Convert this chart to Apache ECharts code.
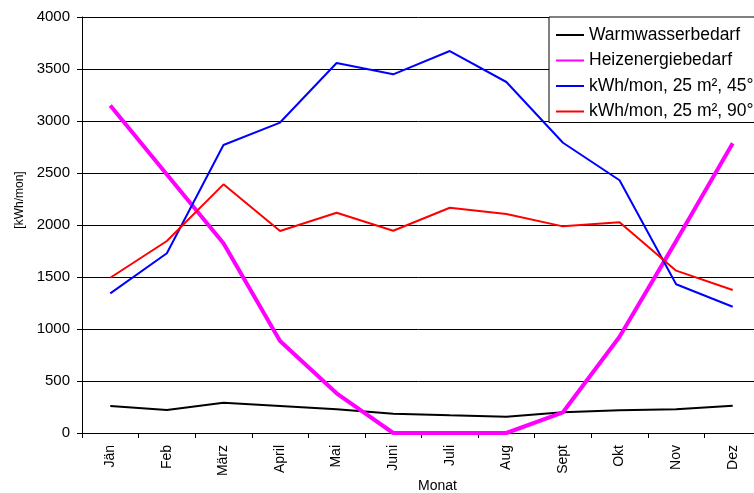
<!DOCTYPE html>
<html>
<head>
<meta charset="utf-8">
<script src="https://cdn.jsdelivr.net/npm/echarts@6/dist/echarts.min.js"></script>
<style>
html,body{margin:0;padding:0;background:#fff;}
#chart{width:754px;height:493px;}
</style>
</head>
<body>
<div id="chart"></div>
<script>
const months = ['Jän','Feb','März','April','Mai','Juni','Juli','Aug','Sept','Okt','Nov','Dez'];
const warmwasser = [260, 221, 291, 260, 228, 186, 170, 157, 199, 218, 228, 263];
const heizen = [3150, 2485, 1824, 885, 382, 0, 0, 0, 199, 926, 1845, 2785];
const kwh45 = [1343, 1728, 2769, 2985, 3558, 3449, 3673, 3375, 2791, 2430, 1430, 1214];
const kwh90 = [1493, 1846, 2391, 1942, 2118, 1945, 2166, 2106, 1987, 2026, 1561, 1375];
const yTicks = {min: 0, max: 4000, interval: 500};

const font = 'Liberation Sans, Arial, sans-serif';
const chart = echarts.init(document.getElementById('chart'));
function ser(name, data, color, width) {
  return {
    name, type: 'line', data, symbol: 'none',
    lineStyle: {color, width}, itemStyle: {color},
    animation: false
  };
}
chart.setOption({
  animation: false,
  backgroundColor: '#fff',
  textStyle: {fontFamily: font},
  grid: {left: 82, top: 17, width: 679, height: 416, outerBoundsMode: 'none', containLabel: false},
  legend: {
    orient: 'vertical', left: 549, top: 17,
    backgroundColor: '#fff', borderColor: '#000', borderWidth: 1, borderRadius: 0,
    padding: [9, 30, 2, 6], itemGap: 7.5, itemWidth: 28, itemHeight: 14,
    itemStyle: {opacity: 0},
    textStyle: {fontFamily: font, fontSize: 17.5, color: '#000'},
    data: ['Warmwasserbedarf', 'Heizenergiebedarf', 'kWh/mon, 25 m², 45°', 'kWh/mon, 25 m², 90°']
  },
  xAxis: {
    type: 'category', data: months, boundaryGap: true,
    name: 'Monat', nameLocation: 'middle', nameGap: 46, nameMoveOverlap: false,
    nameTextStyle: {fontFamily: font, fontSize: 14, color: '#000', padding: [0, 0, 0, 32]},
    axisLine: {lineStyle: {color: '#000', width: 1}},
    axisTick: {show: true, inside: false, length: 5, lineStyle: {color: '#000'}},
    axisLabel: {rotate: 90, margin: 12, fontSize: 14, color: '#000', fontFamily: font},
    splitLine: {show: false}
  },
  yAxis: {
    type: 'value', min: yTicks.min, max: yTicks.max, interval: yTicks.interval,
    name: '[kWh/mon]', nameLocation: 'middle', nameGap: 56, nameMoveOverlap: false,
    nameTextStyle: {fontFamily: font, fontSize: 12, color: '#000', padding: [0, 0, 0, 50]},
    axisLine: {show: true, lineStyle: {color: '#000', width: 1}},
    axisTick: {show: true, inside: false, length: 5, lineStyle: {color: '#000'}},
    axisLabel: {margin: 12, fontSize: 15, color: '#000', fontFamily: font, formatter: v => String(v)},
    splitLine: {show: true, lineStyle: {color: '#000', width: 1}}
  },
  series: [
    ser('Warmwasserbedarf', warmwasser, '#000000', 2),
    ser('Heizenergiebedarf', heizen, '#ff00ff', 4),
    ser('kWh/mon, 25 m², 45°', kwh45, '#0000ff', 2),
    ser('kWh/mon, 25 m², 90°', kwh90, '#ff0000', 2)
  ]
});
</script>
</body>
</html>
